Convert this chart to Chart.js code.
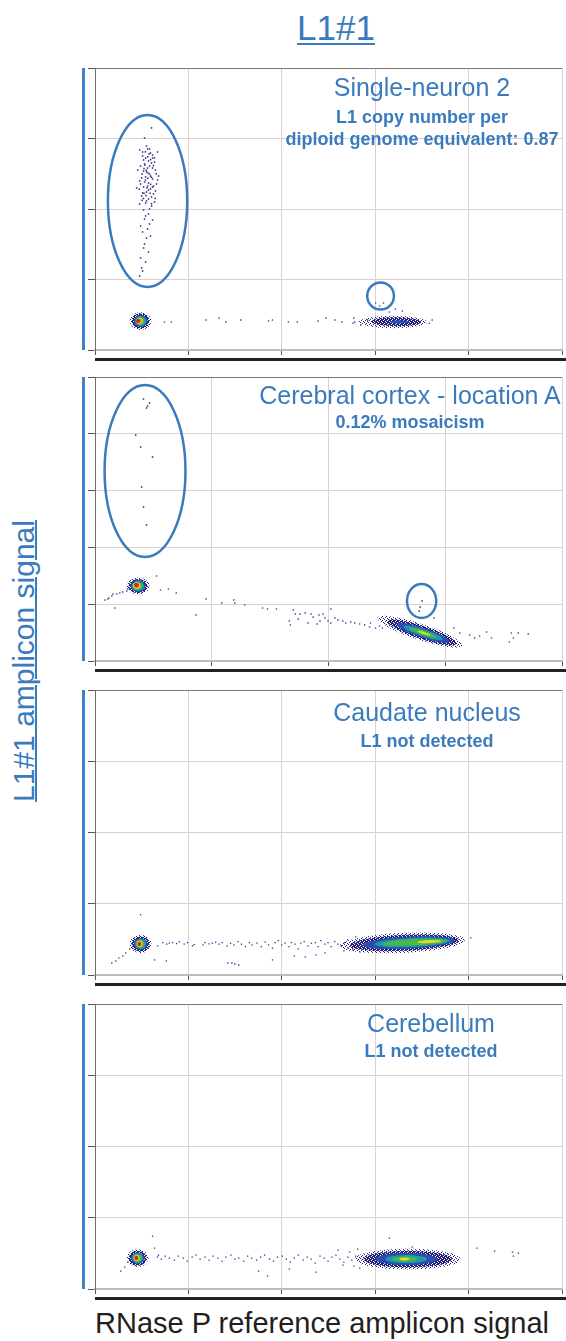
<!DOCTYPE html>
<html>
<head>
<meta charset="utf-8">
<title>L1#1 droplet digital PCR</title>
<script src="https://cdn.jsdelivr.net/npm/chart.js@4.4.1/dist/chart.umd.min.js"></script>
<style>
  html, body { margin: 0; padding: 0; background: #fff; }
  body { position: relative; width: 566px; height: 1341px; overflow: hidden;
         font-family: "Liberation Sans", Arial, Helvetica, sans-serif; }
  .panel { position: absolute; left: 0; width: 566px; }
  .txt { position: absolute; color: #3a7bbd; text-align: center; white-space: nowrap; }
  .name { font-size: 25px; line-height: 28px; width: 320px; }
  .note { font-size: 18px; line-height: 21.5px; font-weight: bold; width: 320px; }
  #title { left: 236px; top: 8px; width: 200px; font-size: 35px; line-height: 40px;
           text-decoration: underline; text-decoration-thickness: 2px; text-underline-offset: 3px; }
  #ylabel { left: -136px; top: 644px; width: 320px; height: 34px; font-size: 30px; line-height: 34px;
            transform: rotate(-90deg); text-decoration: underline; text-decoration-thickness: 2px; }
  #xlabel { position: absolute; left: 95px; top: 1306px; font-size: 29px; line-height: 34px;
            color: #231f20; white-space: nowrap; }
</style>
</head>
<body>
<div id="title" class="txt">L1#1</div>
<div id="ylabel" class="txt">L1#1 amplicon signal</div>
<div id="xlabel">RNase P reference amplicon signal</div>

<script>
// ---- axes (amplitude units) ----
const xTickStep = 1000;
const yTickStep = 2000;
const xMaxByPanel = [4958, 3995, 4958, 4958];
const yMaxByPanel = [8000, 10000, 8000, 8000];

const panelNames = ['Single-neuron 2', 'Cerebral cortex - location A', 'Caudate nucleus', 'Cerebellum'];
const panelNotes = [
  ['L1 copy number per', 'diploid genome equivalent: 0.87'],
  ['0.12% mosaicism'],
  ['L1 not detected'],
  ['L1 not detected']
];

// density contours of the droplet clusters: [x1, y1, x2, y2, halfWidth, level]
const neuronClusters = [
  [368, 823, 600, 823, 255, 0], [389, 823, 579, 823, 213, 1], [411, 823, 558, 823, 170, 2],
  [426, 823, 542, 823, 142, 3], [437, 823, 526, 823, 113, 4], [442, 823, 505, 823, 85, 5],
  [442, 823, 495, 823, 68, 6], [437, 823, 479, 823, 57, 7],
  [2800, 794, 3526, 794, 175, 0], [2937, 808, 3463, 794, 125, 1], [3126, 800, 3337, 800, 45, 2]
];
const cortexClusters = [
  [271, 2641, 466, 2641, 299, 0], [288, 2641, 449, 2641, 246, 1], [305, 2641, 432, 2641, 211, 2],
  [314, 2641, 420, 2641, 176, 3], [322, 2650, 407, 2640, 141, 4], [326, 2660, 390, 2650, 113, 5],
  [331, 2670, 382, 2660, 92, 6], [335, 2680, 373, 2670, 74, 7],
  [2417, 1524, 3140, 537, 282, 0], [2500, 1411, 3090, 605, 229, 1], [2580, 1301, 3030, 687, 176, 2],
  [2640, 1220, 2975, 762, 123, 3], [2690, 1151, 2925, 836, 77, 4], [2760, 1056, 2870, 906, 42, 5]
];
const caudateClusters = [
  [368, 873, 600, 873, 254, 0], [389, 873, 579, 873, 211, 1], [411, 873, 558, 873, 169, 2],
  [426, 873, 542, 873, 141, 3], [437, 873, 526, 873, 113, 4], [442, 873, 505, 873, 85, 5],
  [447, 873, 495, 873, 68, 6], [453, 873, 489, 873, 56, 7],
  [2600, 817, 3926, 985, 282, 0], [2705, 830, 3863, 977, 225, 1], [2842, 848, 3821, 972, 169, 2],
  [2968, 864, 3768, 965, 127, 3], [3053, 874, 3737, 961, 85, 4], [3421, 921, 3684, 954, 42, 5]
];
const cerebellumClusters = [
  [337, 867, 568, 867, 252, 0], [358, 867, 547, 867, 210, 1], [379, 867, 526, 867, 168, 2],
  [395, 867, 510, 867, 140, 3], [405, 867, 495, 867, 112, 4], [411, 867, 474, 867, 84, 5],
  [416, 867, 463, 867, 67, 6], [421, 867, 458, 867, 56, 7],
  [2760, 839, 3880, 839, 295, 0], [2850, 839, 3790, 839, 235, 1], [2979, 839, 3632, 839, 168, 2],
  [3084, 839, 3526, 839, 112, 3], [3158, 839, 3421, 839, 70, 4], [3232, 839, 3337, 839, 42, 5]
];

// L1-positive droplets
const neuronPositives = [
  [600, 6300], [526, 6015], [547, 5787], [579, 5702], [505, 5617], [611, 5532], [537, 5447], [568, 5362],
  [632, 5447], [484, 5220], [600, 5305], [558, 5163], [516, 5078], [642, 5107], [579, 4993], [537, 4908],
  [611, 4851], [474, 4795], [568, 4738], [653, 4709], [516, 4624], [589, 4568], [547, 4482], [621, 4426],
  [495, 4369], [568, 4284], [537, 4170], [600, 4085], [516, 3972], [568, 3858], [526, 3716], [579, 3575],
  [505, 3348], [547, 3177], [516, 2894], [484, 2610], [495, 2326], [474, 2099],
  [563, 5020], [530, 5250], [590, 4700], [552, 4600], [600, 4900], [520, 4450], [575, 5560], [545, 5100],
  [474, 5674], [663, 5617], [505, 5504], [589, 5589], [632, 5334], [526, 5277], [453, 5107], [611, 5163],
  [547, 5050], [674, 4936], [495, 4880], [589, 4936], [526, 4766], [621, 4653], [442, 4596], [558, 4653],
  [642, 4511], [505, 4454], [600, 4341], [547, 4227], [474, 4142], [632, 4199], [579, 4000], [537, 3802],
  [611, 3688], [484, 3518], [558, 3433], [589, 3234], [526, 3007], [568, 2780], [537, 2497], [505, 2241],
  [537, 4823], [579, 5220], [516, 5390], [663, 4823], [568, 4539], [484, 4709], [611, 5447], [558, 5702],
  [560, 5480], [520, 5150], [650, 5000], [500, 4990], [610, 4620], [540, 4380], [585, 4450], [500, 4250],
  [620, 5230], [560, 4870], [470, 4560], [640, 4300], [590, 5400], [535, 5620], [515, 4300], [600, 4150]
];
const cortexPositives = [
  [415, 9225], [441, 8908], [449, 8979], [466, 9084], [348, 7957], [390, 7535], [492, 7183],
  [399, 6127], [415, 5422], [441, 4789], [2798, 2113], [2781, 1901], [2773, 1761]
];

// scattered negative / reference-only droplets
const neuronDroplets = [
  [737, 794], [811, 794], [1179, 851], [1316, 908], [1389, 794], [1547, 851], [1842, 823], [1884, 851],
  [2053, 794], [2147, 794], [2368, 823], [2453, 908], [2547, 851], [2621, 794], [2747, 908], [2758, 794],
  [2821, 709], [2895, 851], [2979, 1333], [3063, 1333], [3021, 1248], [3189, 1163], [3263, 1106],
  [3126, 1078], [3550, 760], [3580, 850], [2740, 760]
];
const cortexDroplets = [
  [85, 2148], [110, 2183], [119, 2218], [144, 2289], [153, 2359], [187, 2359], [212, 2394], [237, 2429],
  [271, 2465], [280, 2535], [170, 1866], [526, 2993], [560, 2500], [628, 2535], [695, 2394], [950, 2183],
  [1085, 2042], [1187, 2148], [1196, 2042], [1280, 1972], [865, 1620], [1433, 1866], [1476, 1831],
  [1552, 1831], [1662, 1408], [1671, 1268], [1696, 1796], [1713, 1655], [1738, 1479], [1755, 1655],
  [1798, 1690], [1823, 1338], [1849, 1655], [1866, 1549], [1900, 1303], [1916, 1620], [1925, 1408],
  [1950, 1655], [1967, 1514], [1993, 1408], [2018, 1831], [2018, 1338], [2052, 1514], [2078, 1444],
  [2120, 1408], [2145, 1338], [2188, 1373], [2222, 1338], [2264, 1303], [2307, 1268], [2349, 1197],
  [2357, 1338], [2400, 1162], [2434, 1232], [2459, 1162], [2900, 1514],
  [3070, 1162], [3121, 986], [3205, 915], [3248, 810], [3290, 880], [3350, 1021], [3392, 810],
  [3545, 669], [3562, 986], [3579, 810], [3621, 986], [3706, 951]
];
const caudateDroplets = [
  [484, 1690], [179, 338], [221, 394], [253, 479], [295, 535], [326, 620], [368, 732],
  [632, 423], [758, 394], [1410, 338], [1453, 338], [1484, 310], [1526, 282], [1884, 423],
  [2116, 535], [2232, 507], [2347, 563], [2442, 620],
  [666, 817], [719, 910], [761, 865], [789, 893], [824, 910], [866, 882], [895, 938], [947, 865],
  [982, 910], [1035, 817], [1053, 854], [1147, 845], [1168, 910], [1211, 873], [1245, 893], [1281, 921],
  [1316, 865], [1351, 910], [1403, 817], [1439, 893], [1474, 845], [1519, 938], [1555, 865], [1597, 797],
  [1639, 910], [1666, 845], [1719, 893], [1766, 797], [1807, 921], [1842, 845], [1884, 752], [1913, 910],
  [1947, 966], [1982, 845], [2018, 893], [2060, 797], [2087, 910], [2123, 865], [2158, 732], [2186, 893],
  [2221, 938], [2263, 817], [2298, 893], [2340, 910], [2368, 797], [2397, 966], [2439, 865], [2474, 910],
  [2508, 797], [2544, 938], [2579, 865], [2614, 825], [2649, 910], [2684, 769], [2719, 845], [2755, 893],
  [2684, 986], [2737, 704], [2768, 1070], [2811, 648], [2642, 676], [3989, 1042]
];
const cerebellumDroplets = [
  [611, 1482], [274, 503], [316, 615], [347, 755], [632, 1147], [674, 951],
  [1832, 364], [2347, 475], [2063, 559], [1737, 503], [3126, 1427], [3368, 1175],
  [4053, 1147], [4242, 1063], [4432, 1035], [4495, 1007], [4442, 923],
  [663, 895], [705, 839], [747, 923], [789, 867], [842, 811], [884, 923], [937, 867], [979, 783],
  [1032, 895], [1074, 951], [1116, 839], [1168, 895], [1211, 811], [1253, 923], [1305, 867], [1347, 783],
  [1389, 895], [1442, 951], [1484, 839], [1526, 867], [1579, 783], [1621, 923], [1663, 867], [1716, 811],
  [1758, 895], [1800, 951], [1853, 839], [1895, 783], [1937, 895], [1989, 923], [2032, 839], [2074, 755],
  [2116, 867], [2158, 951], [2211, 811], [2253, 895], [2295, 839], [2337, 727], [2389, 923], [2432, 867],
  [2474, 783], [2516, 895], [2558, 951], [2600, 839], [2642, 755], [2684, 895], [2726, 811], [2768, 923],
  [2579, 1091], [2632, 671], [2705, 1035], [2747, 643], [2789, 1119], [2811, 587]
];

// circled droplet populations: [cx, cy, rx, ry]
const neuronRings = [[558, 4227, 421, 2440], [3032, 1532, 142, 383]];
const cortexRings = [[428, 6690, 346, 3028], [2794, 2113, 125, 599]];

// ---- layout ----
const panelBoxes = [
  { top: 62, height: 306, nameTop: 73, noteTop: 107, cx: 422 },
  { top: 371, height: 308, nameTop: 381, noteTop: 412, cx: 410 },
  { top: 684, height: 309, nameTop: 698, noteTop: 730.5, cx: 427 },
  { top: 998, height: 309, nameTop: 1009, noteTop: 1041, cx: 431 }
];
const blue = '#3a7bbd';

// stippled navy fills for the sparse outer levels of a cluster
function stipple(mask) {
  const c = document.createElement('canvas');
  c.width = 4; c.height = 4;
  const g = c.getContext('2d');
  const img = g.createImageData(4, 4);
  mask.forEach((on, k) => {
    if (!on) return;
    img.data.set([36, 30, 122, 255], k * 4);
  });
  g.putImageData(img, 0, 0);
  return g.createPattern(c, 'repeat');
}
const densityFills = [
  stipple([1,0,0,0, 0,0,1,0, 0,1,0,0, 0,0,0,1]),
  stipple([1,1,0,1, 0,1,1,1, 1,1,1,0, 1,0,1,1]),
  '#2a4fb2', '#1d9ca6', '#4cb944', '#ddd92c', '#ee8a22', '#d8231c'
];

const dropletPlot = {
  id: 'dropletPlot',
  beforeDatasetsDraw(chart, args, opts) {
    const { ctx, chartArea: a, scales: { x, y } } = chart;
    ctx.save();
    ctx.beginPath();
    ctx.rect(a.left, a.top, a.right - a.left, a.bottom - a.top);
    ctx.clip();
    opts.clusters.forEach(([x1, y1, x2, y2, w, level]) => {
      const px1 = x.getPixelForValue(x1), py1 = y.getPixelForValue(y1);
      const px2 = x.getPixelForValue(x2), py2 = y.getPixelForValue(y2);
      const half = Math.abs(y.getPixelForValue(0) - y.getPixelForValue(w));
      const len = Math.hypot(px2 - px1, py2 - py1) / 2;
      ctx.beginPath();
      ctx.ellipse((px1 + px2) / 2, (py1 + py2) / 2, Math.max(len, 0.5), half,
                  Math.atan2(py2 - py1, px2 - px1), 0, Math.PI * 2);
      ctx.fillStyle = densityFills[level];
      ctx.fill();
    });
    ctx.restore();
  },
  afterDatasetsDraw(chart, args, opts) {
    const { ctx, chartArea: a, scales: { x, y } } = chart;
    ctx.save();
    ctx.strokeStyle = blue;
    ctx.lineWidth = 2.5;
    opts.rings.forEach(([cx, cy, rx, ry]) => {
      const px = x.getPixelForValue(cx), py = y.getPixelForValue(cy);
      const prx = Math.abs(x.getPixelForValue(cx + rx) - px);
      const pry = Math.abs(y.getPixelForValue(cy + ry) - py);
      ctx.beginPath();
      ctx.ellipse(px, py, prx, pry, 0, 0, Math.PI * 2);
      ctx.stroke();
    });
    // blue bracket left of the y axis and heavy rule under the x axis
    ctx.fillStyle = '#3f82c5';
    ctx.fillRect(a.left - 13, a.top, 3, a.bottom - a.top);
    ctx.fillStyle = '#222';
    ctx.fillRect(a.left, a.bottom + 8, chart.width - a.left, 3);
    ctx.restore();
  }
};

function buildPanel(i, droplets, positives, clusters, rings) {
  const box = panelBoxes[i];
  const wrap = document.createElement('div');
  wrap.className = 'panel';
  wrap.style.top = box.top + 'px';
  wrap.style.height = box.height + 'px';
  const canvas = document.createElement('canvas');
  canvas.width = 566;
  canvas.height = box.height;
  wrap.appendChild(canvas);
  document.body.appendChild(wrap);

  const name = document.createElement('div');
  name.className = 'txt name';
  name.textContent = panelNames[i];
  name.style.left = (box.cx - 160) + 'px';
  name.style.top = box.nameTop + 'px';
  document.body.appendChild(name);

  const note = document.createElement('div');
  note.className = 'txt note';
  note.innerHTML = panelNotes[i].join('<br>');
  note.style.left = (box.cx - 160) + 'px';
  note.style.top = box.noteTop + 'px';
  document.body.appendChild(note);

  const yMax = yMaxByPanel[i];
  const toPoints = arr => arr.map(([x, y]) => ({ x, y }));

  new Chart(canvas, {
    type: 'scatter',
    data: {
      datasets: [
        { data: toPoints(droplets), pointStyle: 'rect', pointRadius: 0.95,
          backgroundColor: '#3c3896', borderWidth: 0 },
        { data: toPoints(positives), pointStyle: 'rect', pointRadius: 1.05,
          backgroundColor: '#26207c', borderWidth: 0 }
      ]
    },
    options: {
      responsive: false,
      animation: false,
      events: [],
      layout: { padding: { top: 6, left: 88, right: 0, bottom: 13 } },
      plugins: {
        legend: { display: false },
        tooltip: { enabled: false },
        dropletPlot: { clusters, rings }
      },
      scales: {
        x: {
          type: 'linear', min: 0, max: xMaxByPanel[i],
          afterFit: s => { s.height = 5; },
          ticks: { display: false, stepSize: xTickStep, includeBounds: false },
          grid: { color: '#ddd0d1', tickColor: '#555', tickLength: 5 },
          border: { display: true, color: '#bdbdbd', width: 2 }
        },
        y: {
          type: 'linear', min: 0, max: yMax,
          afterFit: s => { s.width = 7; },
          ticks: { display: false, stepSize: yTickStep, includeBounds: false },
          grid: {
            color: c => (c.tick && c.tick.value === yMax ? '#7a7a7a' : '#ddd0d1'),
            tickColor: '#555', tickLength: 7
          },
          border: { display: true, color: '#6e6e6e', width: 1 }
        }
      }
    },
    plugins: [dropletPlot]
  });
}

buildPanel(0, neuronDroplets, neuronPositives, neuronClusters, neuronRings);
buildPanel(1, cortexDroplets, cortexPositives, cortexClusters, cortexRings);
buildPanel(2, caudateDroplets, [], caudateClusters, []);
buildPanel(3, cerebellumDroplets, [], cerebellumClusters, []);
</script>
</body>
</html>
